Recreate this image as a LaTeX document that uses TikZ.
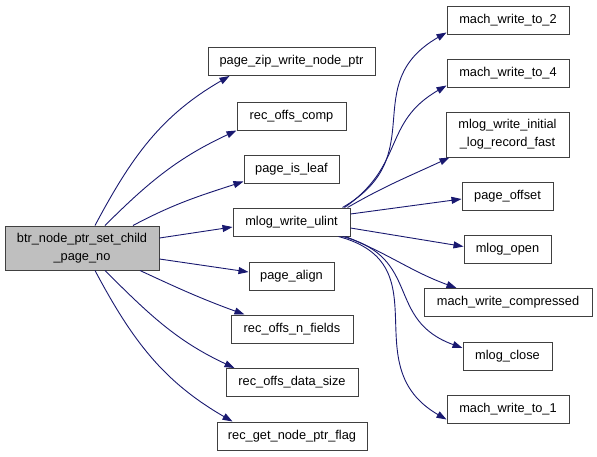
\documentclass[tikz,border=0pt]{standalone}
\usepackage{fontspec}
\setmainfont{Liberation Sans}
\definecolor{edgeblue}{RGB}{25,25,112}
\definecolor{rootgray}{RGB}{191,191,191}
\usetikzlibrary{arrows.meta}

\tikzset{
    fnbox/.style={draw=black!75, line width=1pt, fill=white, inner sep=0pt,
        minimum height=28pt, align=center, font=\fontsize{12.8}{17.7}\selectfont},
    callarrow/.style={-{Triangle[length=10pt,width=7pt]}, draw=edgeblue, line width=0.9pt}
}

\begin{document}
\begin{tikzpicture}[x=1pt, y=1pt]
    \useasboundingbox (0,0) rectangle (597,-456);
    \node[fnbox, fill=rootgray, minimum width=154pt, minimum height=44pt] (root) at (82,-248) {btr\_node\_ptr\_set\_child\\\_page\_no};
    \node[fnbox, minimum width=167pt] (pzwnp) at (291.5,-61.5) {page\_zip\_write\_node\_ptr};
    \node[fnbox, minimum width=109pt] (roc) at (291.5,-116) {rec\_offs\_comp};
    \node[fnbox, minimum width=95pt] (pil) at (291.5,-169) {page\_is\_leaf};
    \node[fnbox, minimum width=117pt] (mwu) at (291.5,-222) {mlog\_write\_ulint};
    \node[fnbox, minimum width=85pt] (pal) at (291.5,-276) {page\_align};
    \node[fnbox, minimum width=122pt] (rnf) at (292,-329) {rec\_offs\_n\_fields};
    \node[fnbox, minimum width=132pt] (rds) at (292,-382.5) {rec\_offs\_data\_size};
    \node[fnbox, minimum width=150pt] (rgnpf) at (292,-436) {rec\_get\_node\_ptr\_flag};
    \node[fnbox, minimum width=122pt] (mw2) at (508,-20) {mach\_write\_to\_2};
    \node[fnbox, minimum width=122pt] (mw4) at (508,-73) {mach\_write\_to\_4};
    \node[fnbox, minimum width=123pt, minimum height=45pt] (mwil) at (507.5,-134.5) {mlog\_write\_initial\\\_log\_record\_fast};
    \node[fnbox, minimum width=91pt] (pof) at (507.5,-196) {page\_offset};
    \node[fnbox, minimum width=87pt] (mop) at (507.5,-249.5) {mlog\_open};
    \node[fnbox, minimum width=168pt] (mwc) at (508,-302.5) {mach\_write\_compressed};
    \node[fnbox, minimum width=89pt] (mcl) at (507.5,-356) {mlog\_close};
    \node[fnbox, minimum width=122pt] (mw1) at (508,-409) {mach\_write\_to\_1};

    % calls of btr_node_ptr_set_child_page_no
    \draw[callarrow] ([xshift=13pt]root.north) to[out=62, in=210] ([xshift=22pt]pzwnp.south west);
    \draw[callarrow] ([xshift=23pt]root.north) to[out=45, in=205] (roc.south west);
    \draw[callarrow] ([xshift=51pt]root.north) to[out=28, in=198] ([yshift=2pt]pil.south west);
    \draw[callarrow] ([yshift=10pt]root.east) -- ([yshift=-5pt]mwu.west);
    \draw[callarrow] ([yshift=-11pt]root.east) -- ([yshift=4pt]pal.west);
    \draw[callarrow] ([xshift=58pt]root.south) to[out=-25, in=160] ([xshift=14pt]rnf.north west);
    \draw[callarrow] ([xshift=23pt]root.south) to[out=-45, in=155] ([xshift=9pt]rds.north west);
    \draw[callarrow] ([xshift=13pt]root.south) to[out=-62, in=150] ([xshift=16pt]rgnpf.north west);

    % calls of mlog_write_ulint
    \draw[callarrow] ([xshift=-8pt]mwu.north east) to[out=30, in=210, looseness=1.3] ([yshift=2pt]mw2.south west);
    \draw[callarrow] ([xshift=-6pt]mwu.north east) to[out=35, in=210, looseness=1.2] ([yshift=2pt]mw4.south west);
    \draw[callarrow] ([xshift=-3pt]mwu.north east) to[out=30, in=205] ([xshift=4pt]mwil.south west);
    \draw[callarrow] ([yshift=8pt]mwu.east) -- ([yshift=-3pt]pof.west);
    \draw[callarrow] ([yshift=-6pt]mwu.east) -- ([yshift=3pt]mop.west);
    \draw[callarrow] ([xshift=-5pt]mwu.south east) to[out=-22, in=160] ([xshift=33pt]mwc.north west);
    \draw[callarrow] ([xshift=-8pt]mwu.south east) to[out=-15, in=160, looseness=1.3] ([yshift=8pt]mcl.west);
    \draw[callarrow] ([xshift=-12pt]mwu.south east) to[out=-15, in=150, looseness=1.3] ([yshift=4pt]mw1.south west);
\end{tikzpicture}
\end{document}
